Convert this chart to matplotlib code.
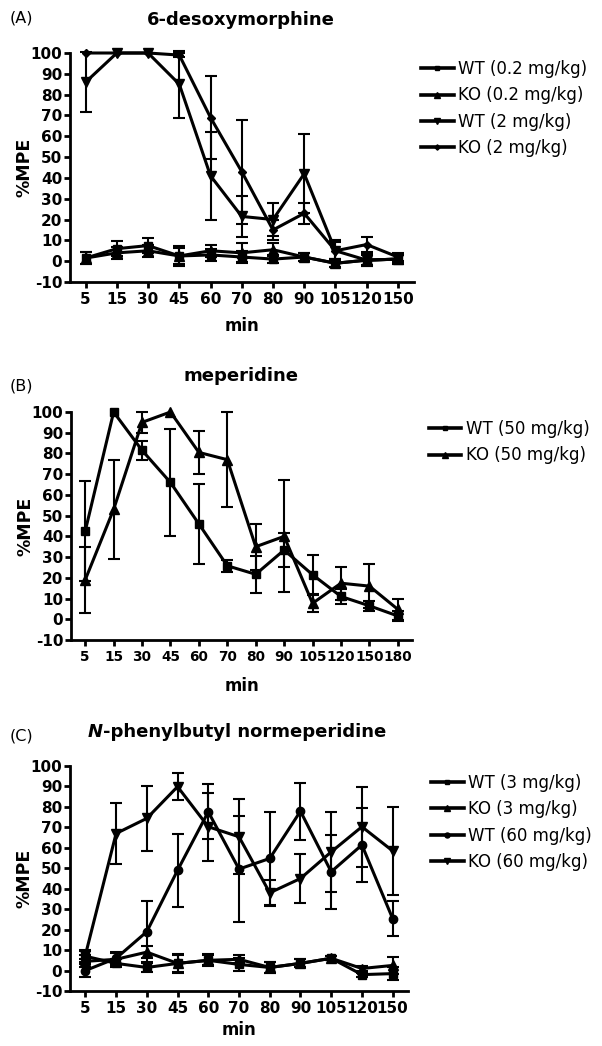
import matplotlib
matplotlib.use('Agg')
import matplotlib.pyplot as plt
from matplotlib.lines import Line2D

plt.rcParams['font.family'] = ['DejaVu Sans']

# ---------------- data ----------------
# Panel A: 6-desoxymorphine
times_a = ['5', '15', '30', '45', '60', '70', '80', '90', '105', '120', '150']
a_wt02 = [1.5, 6, 7.5, 2.5, 3, 2, 1, 2, -1, 0.5, 1]
a_wt02_err = [3, 3.5, 3.5, 4, 3, 3, 2, 2, 2, 3, 2.5]
a_ko02 = [1.5, 4, 5, 2.5, 5, 4, 5.5, 2, -1, 0.5, 1]
a_ko02_err = [3, 3, 3, 5, 3, 4.5, 3, 2, 2, 2.5, 2.5]
a_wt2 = [86, 100, 100, 85, 41, 21.5, 20, 42, 5, 0.5, 1]
a_wt2_err = [14.5, 0, 0, 16, 21, 10, 8, 19, 4, 3, 2]
a_ko2 = [100, 100, 100, 99, 69, 43, 15, 23, 5, 8, 2]
a_ko2_err = [0, 0, 0, 1, 20, 25, 5, 5, 5, 3.5, 2]

# Panel B: meperidine
times_b = ['5', '15', '30', '45', '60', '70', '80', '90', '105', '120', '150', '180']
b_wt = [42.5, 100, 81.5, 66, 46, 25.8, 21.7, 33.4, 21.5, 11, 6.5, 1.6]
b_wt_err = [24, 0, 4.5, 26, 19.5, 3, 9, 8.3, 9.5, 3.6, 2.5, 2.5]
b_ko = [19, 53, 95, 100, 80.5, 77, 35, 40, 7.7, 17.4, 16, 4.8]
b_ko_err = [16, 24, 5, 0, 10.5, 23, 11, 27, 4, 8, 10.5, 5]

# Panel C: N-phenylbutyl normeperidine
times_c = ['5', '15', '30', '45', '60', '70', '80', '90', '105', '120', '150']
c_wt3 = [7, 3.5, 1.5, 3.5, 5, 3, 1.5, 3.5, 6, -2, -1.5]
c_wt3_err = [3, 2, 2, 4.5, 3, 3, 2.5, 2, 1, 1, 3]
c_ko3 = [4.5, 5.5, 9, 3.5, 5, 5.5, 1.5, 3.5, 6, 1, 2.5]
c_ko3_err = [3, 3, 3, 4, 2.5, 2, 2.5, 2, 1, 1, 4]
c_wt60 = [0, 6, 19, 49, 77.6, 49.6, 54.8, 77.9, 48.3, 61.4, 25.4]
c_wt60_err = [3, 3, 15, 18, 13.4, 26, 22.8, 14, 18, 18, 8.6]
c_ko60 = [7.5, 67, 74.4, 89.9, 70.3, 65.4, 38, 45, 58, 70.3, 58.5]
c_ko60_err = [2, 14.7, 16, 6.5, 16.5, 18.4, 6.5, 12, 19.5, 19.6, 21.5]

yticks = list(range(-10, 101, 10))

# ---------------- figure ----------------
W, H = 602, 1046
fig = plt.figure(figsize=(W / 100, H / 100), dpi=100)


def fx(x):
    return x / W


def fy(y):
    return 1 - y / H


def make_axes(l, r, t, b):
    return fig.add_axes([fx(l), fy(b), fx(r) - fx(l), fy(t) - fy(b)])


def style(ax, labels, xfs, xlabelpad):
    n = len(labels)
    ax.set_xlim(-0.5, n - 0.5)
    ax.set_ylim(-10, 100)
    ax.set_xticks(range(n))
    ax.set_xticklabels(labels, fontweight='bold', fontsize=xfs)
    ax.set_yticks(yticks)
    ax.set_yticklabels([str(v) for v in yticks], fontweight='bold', fontsize=11)
    for s in ['top', 'right']:
        ax.spines[s].set_visible(False)
    for s in ['left', 'bottom']:
        ax.spines[s].set_linewidth(2.0)
    ax.tick_params(axis='both', direction='out', length=4.5, width=2.0)
    ax.tick_params(axis='y', pad=1)
    ax.tick_params(axis='x', pad=3)
    ax.set_ylabel('%MPE', fontweight='bold', fontsize=12.5, labelpad=-2)
    ax.set_xlabel('min', fontweight='bold', fontsize=12, labelpad=xlabelpad)


def series(ax, y, err, marker, ms, label, handles):
    x = list(range(len(y)))
    ax.plot(x, y, color='black', marker=marker, ms=ms, lw=2.2, clip_on=False,
            zorder=3)
    xe = [xi for xi, e in zip(x, err) if e > 0]
    ye = [yi for yi, e in zip(y, err) if e > 0]
    ee = [e for e in err if e > 0]
    ax.errorbar(xe, ye, yerr=ee, fmt='none', ecolor='black', elinewidth=1.5,
                capsize=4.5, capthick=1.5, clip_on=False, zorder=2)
    handles.append(Line2D([], [], color='black', lw=2.6, marker=marker,
                          ms=ms * 0.6, label=label))


def legend(ax, handles, x, y):
    ax.legend(handles=handles, loc='upper left', bbox_to_anchor=(fx(x), fy(y)),
              bbox_transform=fig.transFigure, frameon=False,
              fontsize=12, handlelength=1.95, handletextpad=0.3,
              labelspacing=0.5, borderpad=0, borderaxespad=0)


# Panel A
axA = make_axes(70, 413.5, 53, 282)
hA = []
series(axA, a_wt02, a_wt02_err, 's', 6, 'WT (0.2 mg/kg)', hA)
series(axA, a_ko02, a_ko02_err, '^', 6.5, 'KO (0.2 mg/kg)', hA)
series(axA, a_wt2, a_wt2_err, 'v', 6.5, 'WT (2 mg/kg)', hA)
series(axA, a_ko2, a_ko2_err, 'D', 4.5, 'KO (2 mg/kg)', hA)
style(axA, times_a, 11, 7)
legend(axA, hA, 421, 60)

# Panel B
axB = make_axes(71, 412, 412, 640)
hB = []
series(axB, b_wt, b_wt_err, 's', 6, 'WT (50 mg/kg)', hB)
series(axB, b_ko, b_ko_err, '^', 6.5, 'KO (50 mg/kg)', hB)
style(axB, times_b, 9.8, 9)
legend(axB, hB, 429, 420)

# Panel C
axC = make_axes(70, 408, 766, 991)
hC = []
series(axC, c_wt3, c_wt3_err, 's', 6, 'WT (3 mg/kg)', hC)
series(axC, c_ko3, c_ko3_err, '^', 6.5, 'KO (3 mg/kg)', hC)
series(axC, c_wt60, c_wt60_err, 'o', 6, 'WT (60 mg/kg)', hC)
series(axC, c_ko60, c_ko60_err, 'v', 6.5, 'KO (60 mg/kg)', hC)
style(axC, times_c, 11, 3)
legend(axC, hC, 431, 774)

# titles and panel letters
fig.text(fx(241), fy(20), '6-desoxymorphine', ha='center', va='center',
         fontweight='bold', fontsize=13)
fig.text(fx(10), fy(18), '(A)', ha='left', va='center', fontsize=11.5)
fig.text(fx(241), fy(376), 'meperidine', ha='center', va='center',
         fontweight='bold', fontsize=13)
fig.text(fx(10), fy(386), '(B)', ha='left', va='center', fontsize=11.5)
fig.text(fx(10), fy(736), '(C)', ha='left', va='center', fontsize=11.5)

# title C with italic N
tN = fig.text(fx(88), fy(732), 'N', ha='left', va='center', fontweight='bold',
              fontstyle='italic', fontsize=13)
fig.canvas.draw()
bb = tN.get_window_extent()
fig.text(bb.x1 / W, fy(732), '-phenylbutyl normeperidine', ha='left', va='center',
         fontweight='bold', fontsize=13)

fig.savefig('out.png', dpi=100)
